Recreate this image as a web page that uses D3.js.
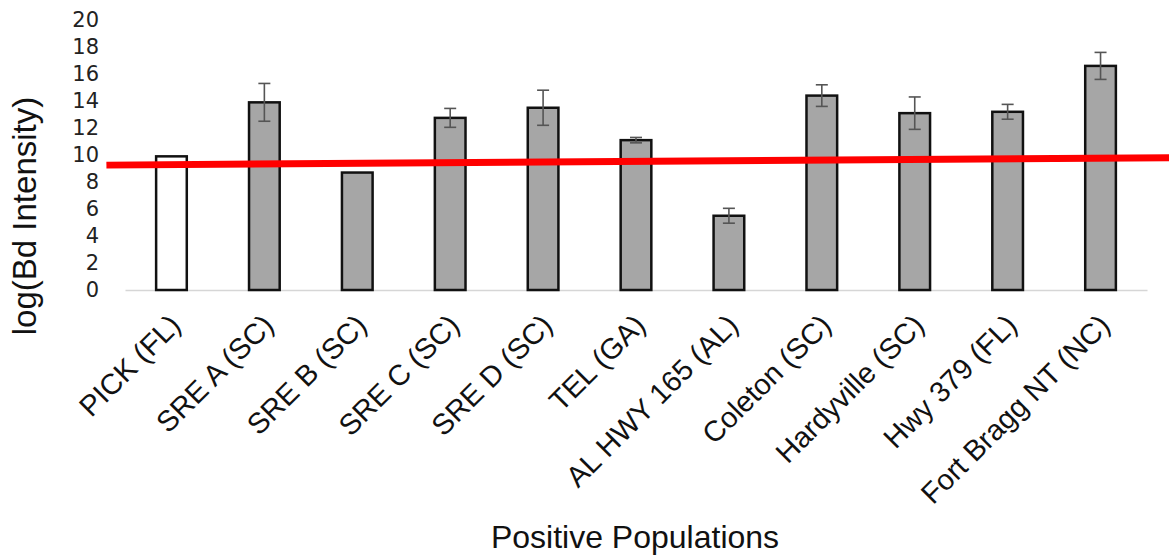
<!DOCTYPE html>
<html>
<head>
<meta charset="utf-8">
<script src="https://cdn.jsdelivr.net/npm/d3@7"></script>
<style>
  body { margin: 0; background: #fff; }
  svg { display: block; }
</style>
</head>
<body>
<div id="chart"></div>
<script>
// chart data
const populations = [
    "PICK (FL)", "SRE A (SC)", "SRE B (SC)", "SRE C (SC)", "SRE D (SC)",
    "TEL (GA)", "AL HWY 165 (AL)", "Coleton (SC)", "Hardyville (SC)",
    "Hwy 379 (FL)", "Fort Bragg NT (NC)",
];
const intensity = [9.9, 13.9, 8.7, 12.75, 13.5, 11.1, 5.5, 14.4, 13.1, 13.2, 16.6];
const errors = [0, 1.4, 0, 0.7, 1.3, 0.2, 0.55, 0.8, 1.2, 0.55, 1.0];
const controlPops = ["PICK (FL)"];
const yTicks = [0, 2, 4, 6, 8, 10, 12, 14, 16, 18, 20];
// red reference line, slightly sloped: [band position, value]
const refLine = [[-0.2, 9.25], [11.25, 9.8]];

const width = 1169;
const height = 560;
const margin = { top: 20, right: 22, bottom: 270, left: 125 };
const innerWidth = width - margin.left - margin.right;
const innerHeight = height - margin.top - margin.bottom;

const svg = d3.select("#chart")
    .append("svg")
    .attr("width", width)
    .attr("height", height);

const graph = svg.append("g")
    .attr("transform", `translate(${margin.left},${margin.top})`);

const x = d3.scaleBand()
    .domain(populations)
    .range([0, innerWidth])
    .paddingInner(0.67)
    .paddingOuter(0.335);

// continuous version of the band scale for the reference line
const xPos = d3.scaleLinear()
    .domain([0, populations.length])
    .range([0, innerWidth]);

const y = d3.scaleLinear()
    .domain([0, 20])
    .range([innerHeight, 0]);

// y axis (labels only)
const yAxis = graph.append("g")
    .call(d3.axisLeft(y).tickValues(yTicks).tickSize(0).tickPadding(26));
yAxis.select(".domain").remove();
yAxis.selectAll(".tick text")
    .attr("fill", "#222")
    .style("font-family", "'DejaVu Sans', sans-serif")
    .style("font-size", "21px");

// x axis baseline + rotated labels
const xAxis = graph.append("g")
    .attr("transform", `translate(0,${innerHeight})`)
    .call(d3.axisBottom(x).tickSize(0).tickSizeOuter(0).tickPadding(0));
xAxis.select(".domain")
    .attr("stroke", "#d6d6d6")
    .attr("stroke-width", 1.5);
xAxis.selectAll(".tick text")
    .attr("text-anchor", "end")
    .attr("dy", 0)
    .attr("transform", "translate(11,37) rotate(-45)")
    .attr("fill", "#111")
    .style("font-family", "'Liberation Sans', Arial, sans-serif")
    .style("font-size", "29px");

// bars
const data = populations.map((p, i) => ({ name: p, value: intensity[i], err: errors[i] }));

graph.selectAll(".bar")
    .data(data)
    .enter()
    .append("rect")
    .attr("class", "bar")
    .attr("x", d => x(d.name))
    .attr("y", d => y(d.value))
    .attr("width", x.bandwidth())
    .attr("height", d => y(0) - y(d.value))
    .attr("fill", d => controlPops.includes(d.name) ? "#ffffff" : "#a6a6a6")
    .attr("stroke", "#111")
    .attr("stroke-width", 2.5);

// error bars
const errData = data.filter(d => d.err > 0);
const cap = 6;
const eb = graph.selectAll(".err")
    .data(errData)
    .enter()
    .append("g")
    .attr("class", "err")
    .attr("stroke", "#555")
    .attr("stroke-width", 1.6);
eb.append("line")
    .attr("x1", d => x(d.name) + x.bandwidth() / 2)
    .attr("x2", d => x(d.name) + x.bandwidth() / 2)
    .attr("y1", d => y(d.value + d.err))
    .attr("y2", d => y(d.value - d.err));
eb.append("line")
    .attr("x1", d => x(d.name) + x.bandwidth() / 2 - cap)
    .attr("x2", d => x(d.name) + x.bandwidth() / 2 + cap)
    .attr("y1", d => y(d.value + d.err))
    .attr("y2", d => y(d.value + d.err));
eb.append("line")
    .attr("x1", d => x(d.name) + x.bandwidth() / 2 - cap)
    .attr("x2", d => x(d.name) + x.bandwidth() / 2 + cap)
    .attr("y1", d => y(d.value - d.err))
    .attr("y2", d => y(d.value - d.err));

// red reference line
graph.append("path")
    .datum(refLine)
    .attr("fill", "none")
    .attr("stroke", "#ff0000")
    .attr("stroke-width", 7)
    .attr("d", d3.line().x(d => xPos(d[0])).y(d => y(d[1])));

// axis titles
svg.append("text")
    .attr("transform", "translate(36,216) rotate(-90)")
    .attr("text-anchor", "middle")
    .attr("fill", "#111")
    .style("font-family", "'Liberation Sans', Arial, sans-serif")
    .style("font-size", "33px")
    .text("log(Bd Intensity)");

svg.append("text")
    .attr("x", 635)
    .attr("y", 548)
    .attr("text-anchor", "middle")
    .attr("fill", "#111")
    .style("font-family", "'Liberation Sans', Arial, sans-serif")
    .style("font-size", "32px")
    .text("Positive Populations");
</script>
</body>
</html>
